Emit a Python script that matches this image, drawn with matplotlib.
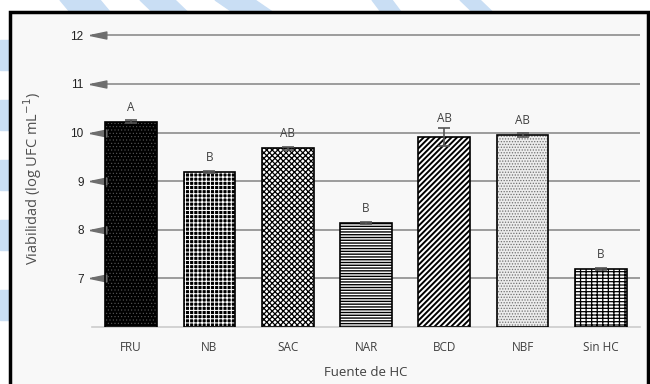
import numpy as np
import matplotlib
matplotlib.use("Agg")
import matplotlib.pyplot as plt
from matplotlib.patches import Rectangle, Polygon

# viabilidad por fuente de hidratos de carbono
fuentes = ["FRU", "NB", "SAC", "NAR", "BCD", "NBF", "Sin HC"]
viabilidad = [10.22, 9.19, 9.68, 8.14, 9.91, 9.95, 7.19]
error = [0.03, 0.02, 0.03, 0.02, 0.18, 0.05, 0.02]
letras = ["A", "B", "AB", "B", "AB", "AB", "B"]
yticks = [7, 8, 9, 10, 11, 12]

# trama de cada barra: (relleno, color de trama, trama, grosor)
tramas = [
    ("black", "#5a5a5a", ".....", 0.4),
    ("black", "white", "++++", 0.75),
    ("white", "black", "xxxxxx", 0.9),
    ("white", "black", "------", 1.0),
    ("white", "black", "//////", 1.4),
    ("#ececec", "#707070", "......", 0.6),
    ("white", "black", "-----|||", 0.9),
]

txt = "#404040"

fig = plt.figure(figsize=(6.5, 3.84), dpi=100)
fig.patch.set_facecolor("white")

# manchas azules del fondo
azul = "#c9def4"
for xs in [(60, 100, 120, 80), (140, 175, 200, 165), (215, 255, 290, 250), (372, 392, 410, 390), (460, 480, 505, 485)]:
    x0, x1, x2, x3 = xs
    fig.patches.append(Polygon([(x0 / 650, 1), (x1 / 650, 1), (x2 / 650, 1 - 24 / 384), (x3 / 650, 1 - 24 / 384)],
                               closed=True, transform=fig.transFigure, color=azul, zorder=-3))
for y0 in [40, 100, 160, 220, 290]:
    fig.patches.append(Rectangle((0, 1 - (y0 + 30) / 384), 9 / 650, 30 / 384,
                                 transform=fig.transFigure, color=azul, zorder=-3))

# marco y fondo interior
fig.patches.append(Rectangle((10 / 650, -0.02), 638 / 650, 1 - 12 / 384 + 0.02,
                             transform=fig.transFigure, facecolor="#f8f8f8",
                             edgecolor="black", lw=2.5, zorder=-2))

ax = fig.add_axes([92 / 650, 57 / 384, 548 / 650, 296.5 / 384])
ax.set_facecolor("none")
x = np.arange(len(fuentes))

for yt in yticks:
    ax.axhline(yt, color="#8c8c8c", lw=1.2, zorder=1)
flecha = [(-1, 0), (1, 0.42), (1, -0.42), (-1, 0)]
ax.plot(np.full(len(yticks), 0.011), yticks, linestyle="none", marker=flecha,
        markersize=12, color="#6e6e6e", transform=ax.get_yaxis_transform(),
        clip_on=False, zorder=3)

for i, (v, e) in enumerate(zip(viabilidad, error)):
    cara, ctrama, trama, grosor = tramas[i]
    with plt.rc_context({"hatch.linewidth": grosor}):
        b = ax.bar(x[i], v - 6, bottom=6, width=0.66, color=cara, edgecolor=ctrama,
                   hatch=trama, lw=0, zorder=2)
    for p in b.patches:
        if hasattr(p, "set_hatch_linewidth"):
            p.set_hatch_linewidth(grosor)
    ax.bar(x[i], v - 6, bottom=6, width=0.66, facecolor="none",
           edgecolor="black", lw=1.2, zorder=3)
    ax.errorbar(x[i], v, yerr=e, color="#555555", capsize=4, lw=1.2,
                capthick=1.2, zorder=4)
    ax.text(x[i], v + max(e, 0.1) + 0.2, letras[i], ha="center", va="center",
            fontsize=8.5, color=txt, family="Open Sans")

ax.set_xlim(-0.5, 6.5)
ax.set_ylim(6, 12.1)
ax.set_yticks(yticks)
ax.set_yticklabels([str(t) for t in yticks], family="Liberation Sans", fontsize=8.5, color="#222222")
ax.set_xticks(x)
ax.set_xticklabels(fuentes, family="Open Sans", fontsize=8.5, color=txt)
ax.tick_params(axis="y", length=0, pad=6)
ax.tick_params(axis="x", length=0, pad=10)
for s in ["top", "right", "left"]:
    ax.spines[s].set_visible(False)
ax.spines["bottom"].set_color("#cccccc")
ax.spines["bottom"].set_linewidth(1.2)

ax.set_ylabel("Viabilidad (log UFC mL$^{-1}$)", family="Open Sans", fontsize=10.5, color="#505050")
ax.yaxis.set_label_coords(-0.088, 0.5)
ax.set_xlabel("Fuente de HC", family="Open Sans", fontsize=9.5, color=txt)
ax.xaxis.set_label_coords(0.5, -0.13)

fig.savefig("out.png", dpi=100)
